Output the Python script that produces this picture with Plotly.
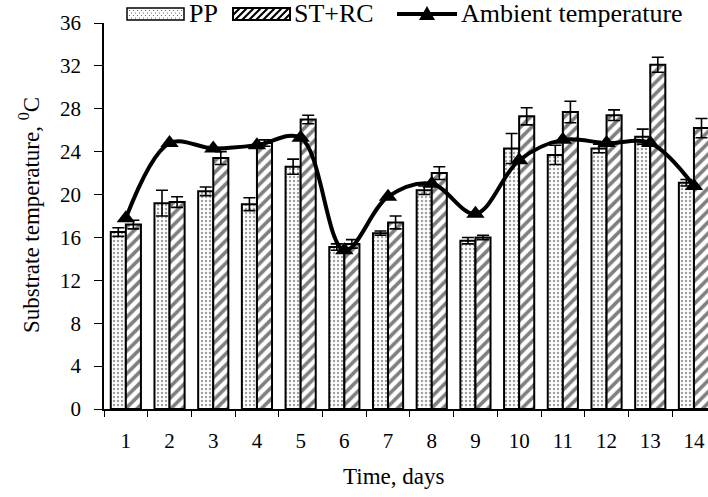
import plotly.graph_objects as go

days = [str(i) for i in range(1, 15)]
pp = [16.5, 19.2, 20.3, 19.1, 22.6, 15.1, 16.4, 20.4, 15.7, 24.3, 23.7, 24.3, 25.4, 21.1]
pp_err = [0.4, 1.2, 0.4, 0.6, 0.7, 0.3, 0.2, 0.4, 0.3, 1.4, 0.9, 0.4, 0.7, 0.3]
st_rc = [17.2, 19.3, 23.4, 24.8, 27.0, 15.4, 17.4, 22.0, 16.0, 27.3, 27.7, 27.4, 32.1, 26.2]
st_rc_err = [0.4, 0.5, 0.6, 0.3, 0.4, 0.4, 0.6, 0.6, 0.2, 0.8, 1.0, 0.5, 0.7, 0.9]
ambient = [17.8, 24.8, 24.3, 24.6, 25.3, 14.8, 19.8, 21.0, 18.2, 23.2, 25.1, 24.8, 24.8, 20.8]
y_ticks = list(range(0, 37, 4))
legend_names = ["PP", "ST+RC", "Ambient temperature"]

FONT = "Liberation Serif, Times New Roman, serif"

# figure geometry (body margin removed via post_script)
W, H = 708, 497
ML, MR, MT, MB = 104, 0, 23, 88
PW, PH = W - ML - MR, H - MT - MB
CAT_PX = 43.7


def px(sx):
    return (sx - ML) / PW


def py(sy):
    return (H - MB - sy) / PH


fig = go.Figure()
fig.add_trace(go.Bar(
    x=days, y=pp, name=legend_names[0], showlegend=False,
    marker=dict(color="white", line=dict(color="black", width=2),
                pattern=dict(shape=".", fgcolor="#444", bgcolor="white", size=4, solidity=0.3)),
    error_y=dict(type="data", array=pp_err, color="black", thickness=1.6, width=6),
))
fig.add_trace(go.Bar(
    x=days, y=st_rc, name=legend_names[1], showlegend=False,
    marker=dict(color="white", line=dict(color="black", width=2),
                pattern=dict(shape="/", fgcolor="black", bgcolor="white", size=8, solidity=0.45)),
    error_y=dict(type="data", array=st_rc_err, color="black", thickness=1.6, width=6),
))
fig.add_trace(go.Scatter(
    x=days, y=ambient, name=legend_names[2], mode="lines+markers", showlegend=False,
    line=dict(color="black", width=4, shape="spline", smoothing=1.0),
    marker=dict(symbol="triangle-up", size=16, color="black"),
))

# ---- custom legend (swatches + labels) ----
shapes = []
ly0, ly1 = 8, 20          # swatch top/bottom (px)
# PP swatch with dots
bx0, bx1 = 127, 184
shapes.append(dict(type="rect", xref="paper", yref="paper", x0=px(bx0), x1=px(bx1), y0=py(ly1), y1=py(ly0),
                   fillcolor="white", line=dict(color="black", width=1.5)))
r = 0
yy = ly0 + 2.5
while yy < ly1 - 1:
    xx = bx0 + 2.5 + (2 if r % 2 else 0)
    while xx < bx1 - 1:
        shapes.append(dict(type="circle", xref="paper", yref="paper",
                           x0=px(xx - 0.6), x1=px(xx + 0.6), y0=py(yy + 0.6), y1=py(yy - 0.6),
                           fillcolor="#555", line=dict(width=0)))
        xx += 4
    yy += 2.5
    r += 1
# ST+RC swatch with hatching
hx0, hx1 = 233, 290
h = ly1 - ly0
x0 = hx0 - h
while x0 < hx1:
    t0 = max(0, hx0 - x0)
    t1 = min(h, hx1 - x0)
    if t1 > t0:
        shapes.append(dict(type="line", xref="paper", yref="paper",
                           x0=px(x0 + t0), y0=py(ly1 - t0), x1=px(x0 + t1), y1=py(ly1 - t1),
                           line=dict(color="black", width=2.2)))
    x0 += 7
shapes.append(dict(type="rect", xref="paper", yref="paper", x0=px(hx0), x1=px(hx1), y0=py(ly1), y1=py(ly0),
                   fillcolor="rgba(0,0,0,0)", line=dict(color="black", width=2)))
# line + triangle swatch
lx0, lx1, lyc = 397, 457, 14
shapes.append(dict(type="line", xref="paper", yref="paper", x0=px(lx0), x1=px(lx1), y0=py(lyc), y1=py(lyc),
                   line=dict(color="black", width=4)))
cx = (lx0 + lx1) / 2
shapes.append(dict(type="path", xref="paper", yref="paper",
                   path=f"M {px(cx - 8)} {py(lyc + 6)} L {px(cx + 8)} {py(lyc + 6)} L {px(cx)} {py(lyc - 8)} Z",
                   fillcolor="black", line=dict(width=0)))

LEG_FONT = dict(family=FONT, size=26, color="black")
annotations = [
    dict(text=legend_names[0], x=px(187), y=py(14), xref="paper", yref="paper", xanchor="left",
         yanchor="middle", showarrow=False, font=LEG_FONT),
    dict(text=legend_names[1], x=px(292), y=py(14), xref="paper", yref="paper", xanchor="left",
         yanchor="middle", showarrow=False, font=LEG_FONT),
    dict(text=legend_names[2], x=px(459), y=py(14), xref="paper", yref="paper", xanchor="left",
         yanchor="middle", showarrow=False, font=LEG_FONT),
    dict(text="Time, days", x=px(393), y=py(476), xref="paper", yref="paper", xanchor="center",
         yanchor="middle", showarrow=False, font=dict(family=FONT, size=23)),
    dict(text="Substrate temperature, <sup>0</sup>C", x=px(29), y=py(215), xref="paper", yref="paper",
         xanchor="center", yanchor="middle", showarrow=False, textangle=-90, font=dict(family=FONT, size=23)),
]

fig.update_layout(
    width=W, height=H,
    margin=dict(l=ML, r=MR, t=MT, b=MB, autoexpand=False),
    paper_bgcolor="white", plot_bgcolor="white",
    font=dict(family=FONT, size=21, color="black"),
    barmode="group", bargap=0.31, bargroupgap=0,
    showlegend=False,
    hovermode=False,
    xaxis=dict(type="category", range=[-0.5, -0.5 + PW / CAT_PX], showline=True, linecolor="black",
               linewidth=1.5, ticks="outside", tickson="boundaries", ticklen=6, tickcolor="black",
               tickwidth=1.2, showgrid=False, automargin=False, ticklabelstandoff=12,
               tickfont=dict(family=FONT, size=21)),
    yaxis=dict(range=[0, 36], tickvals=y_ticks, showline=True, linecolor="black", linewidth=1.5,
               ticks="outside", ticklen=8, tickcolor="black", tickwidth=1.2, showgrid=False,
               zeroline=False, automargin=False, ticklabelstandoff=9,
               tickfont=dict(family=FONT, size=21)),
    shapes=shapes,
    annotations=annotations,
)

fig.write_html("out.html", config={"displayModeBar": False},
               post_script="document.body.style.margin='0px';")
